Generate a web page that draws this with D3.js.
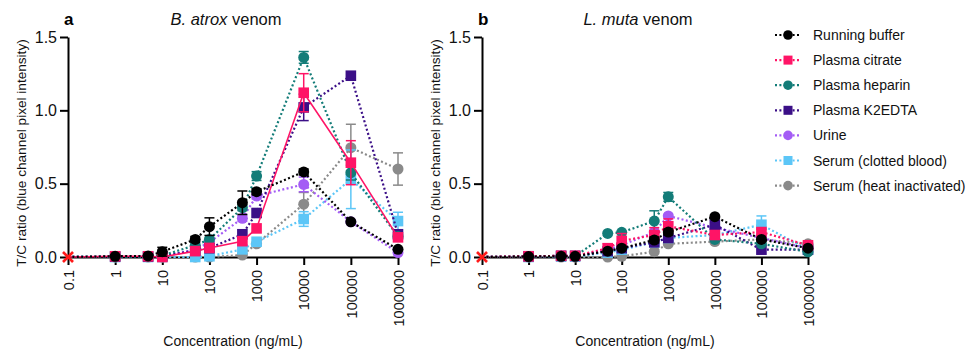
<!DOCTYPE html>
<html><head><meta charset="utf-8">
<script src="https://cdn.jsdelivr.net/npm/d3@7"></script>
<style>
body{margin:0;background:#fff;}
text{font-family:"Liberation Sans",Arial,sans-serif;}
</style></head>
<body><svg id="c" width="969" height="351"></svg>
<script>
const conc = [0.1, 1, 5, 10, 50, 100, 500, 1000, 10000, 100000, 1000000];
const xTicks = [0.1, 1, 10, 100, 1000, 10000, 100000, 1000000];
const xTickLabels = ["0.1","1","10","100","1000","10000","100000","1000000"];
const yTicks = [0, 0.5, 1.0, 1.5];
const seriesNames = ["Running buffer","Plasma citrate","Plasma heparin","Plasma K2EDTA","Urine","Serum (clotted blood)","Serum (heat inactivated)"];
const seriesColors = ["#000000","#ff1466","#137c78","#3b0f87","#a45cf5","#5cc6f7","#8a8a8a"];
const seriesShapes = ["circle","square","circle","square","circle","square","circle"];
const panelTitles = [["B. atrox"," venom"],["L. muta"," venom"]];
const panelLetters = ["a","b"];

// panel a values
const runningA = [0, 0.005, 0.007, 0.036, 0.12, 0.207, 0.37, 0.445, 0.58, 0.24, 0.052];
const citrateA = [0, 0.005, 0.005, 0.0, 0.04, 0.062, 0.108, 0.195, 1.12, 0.643, 0.134];
const heparinA = [0, 0.003, 0.003, 0.01, 0.08, 0.12, 0.336, 0.552, 1.361, 0.575, 0.14];
const k2edtaA  = [0, 0.003, 0.003, 0.005, 0.045, 0.06, 0.155, 0.30, 1.02, 1.236, 0.155];
const urineA   = [0, 0.003, 0.003, 0.005, 0.05, 0.10, 0.264, 0.416, 0.495, 0.24, 0.03];
const clottedA = [0, 0, 0, 0, 0.0, 0.005, 0.052, 0.104, 0.259, 0.53, 0.245];
const heatA    = [0, 0, 0, 0, 0, 0, 0.013, 0.09, 0.36, 0.745, 0.60];
// panel a error (SD)
const runningAErr = [0, 0, 0, 0.03, 0.02, 0.06, 0.08, 0.02, 0.02, 0.01, 0.01];
const citrateAErr = [0, 0, 0, 0, 0, 0.01, 0.01, 0.01, 0.13, 0.15, 0.02];
const heparinAErr = [0, 0, 0, 0, 0.01, 0.01, 0.02, 0.03, 0.04, 0.05, 0.02];
const k2edtaAErr  = [0, 0, 0, 0, 0, 0, 0.01, 0.01, 0.09, 0.01, 0.01];
const urineAErr   = [0, 0, 0, 0, 0, 0.01, 0.02, 0.02, 0.05, 0.01, 0.01];
const clottedAErr = [0, 0, 0, 0, 0, 0, 0.01, 0.01, 0.05, 0.2, 0.06];
const heatAErr    = [0, 0, 0, 0, 0, 0, 0.01, 0.01, 0.08, 0.16, 0.11];

// panel b values
const runningB = [0, 0.003, 0.005, 0.005, 0.04, 0.06, 0.116, 0.17, 0.275, 0.12, 0.06];
const citrateB = [0, 0.005, 0.008, 0.008, 0.06, 0.11, 0.15, 0.21, 0.15, 0.17, 0.08];
const heparinB = [0, 0.003, 0.005, 0.005, 0.161, 0.168, 0.245, 0.41, 0.12, 0.09, 0.035];
const k2edtaB  = [0, 0.005, 0.008, 0.008, 0.04, 0.06, 0.10, 0.13, 0.22, 0.05, 0.05];
const urineB   = [0, 0.003, 0.005, 0.005, 0.05, 0.08, 0.17, 0.28, 0.20, 0.13, 0.06];
const clottedB = [0, 0, 0.003, 0.003, 0.03, 0.05, 0.10, 0.13, 0.15, 0.22, 0.05];
const heatB    = [0, 0, 0, 0, 0.0, 0.005, 0.036, 0.09, 0.105, 0.12, 0.09];
const runningBErr = [0, 0, 0, 0, 0.01, 0.01, 0.02, 0.02, 0.01, 0.01, 0.01];
const citrateBErr = [0, 0, 0, 0, 0.03, 0.05, 0.05, 0.05, 0.02, 0.02, 0.01];
const heparinBErr = [0, 0, 0, 0, 0.01, 0.01, 0.07, 0.03, 0.01, 0.01, 0.01];
const k2edtaBErr  = [0, 0, 0, 0, 0, 0, 0.01, 0.02, 0.03, 0.01, 0.01];
const urineBErr   = [0, 0, 0, 0, 0, 0, 0.01, 0.01, 0.01, 0.01, 0.01];
const clottedBErr = [0, 0, 0, 0, 0, 0, 0.01, 0.01, 0.01, 0.06, 0.01];
const heatBErr    = [0, 0, 0, 0, 0, 0, 0.01, 0.01, 0.01, 0.01, 0.01];

const panelValues = [
  [runningA, citrateA, heparinA, k2edtaA, urineA, clottedA, heatA],
  [runningB, citrateB, heparinB, k2edtaB, urineB, clottedB, heatB]];
const panelErrors = [
  [runningAErr, citrateAErr, heparinAErr, k2edtaAErr, urineAErr, clottedAErr, heatAErr],
  [runningBErr, citrateBErr, heparinBErr, k2edtaBErr, urineBErr, clottedBErr, heatBErr]];

const svg = d3.select("#c");
const panels = [{x0:68, x1:398}, {x0:482, x1:808}];
const yTop = 37, yBot = 257;
const dash = "2,2.4";

panels.forEach((p, pi) => {
  const x = d3.scaleLog().domain([0.1, 1e6]).range([p.x0, p.x1]);
  const y = d3.scaleLinear().domain([0, 1.5]).range([yBot, yTop]);
  const g = svg.append("g");

  // axes
  const xa = g.append("g").attr("transform", `translate(0,${yBot})`)
    .call(d3.axisBottom(x).tickValues(xTicks).tickFormat((d,i)=>xTickLabels[i]).tickSize(8).tickSizeOuter(0));
  xa.selectAll("text").attr("transform","rotate(-90)").attr("text-anchor","end")
    .attr("x",-13).attr("y",0).attr("dy","0.36em").attr("font-size","14.5px").attr("fill","#111");
  const ya = g.append("g").attr("transform", `translate(${p.x0},0)`)
    .call(d3.axisLeft(y).tickValues(yTicks).tickFormat(d3.format(".1f")).tickSize(8).tickSizeOuter(0));
  ya.selectAll("text").attr("font-size","16px").attr("x",-11).attr("fill","#111");
  [xa, ya].forEach(a => {
    a.select(".domain").attr("stroke","#000").attr("stroke-width",2);
    a.selectAll(".tick line").attr("stroke","#000").attr("stroke-width",2);
    a.attr("font-family",null);
  });

  // axis titles
  g.append("text").attr("x",(p.x0+p.x1)/2).attr("y",346).attr("text-anchor","middle")
    .attr("font-size","14px").attr("fill","#111").text("Concentration (ng/mL)");
  g.append("text").attr("transform",`translate(${p.x0-42},${153}) rotate(-90)`).attr("text-anchor","middle")
    .attr("font-size","13.6px").attr("fill","#111").text("T/C ratio (blue channel pixel intensity)");

  // titles
  g.append("text").attr("x",p.x0-4).attr("y",25).attr("font-size","17px").attr("font-weight","bold").text(panelLetters[pi]);
  const t = g.append("text").attr("x",(p.x0+p.x1)/2-7).attr("y",25).attr("text-anchor","middle").attr("font-size","16.5px").attr("fill","#111");
  t.append("tspan").attr("font-style","italic").text(panelTitles[pi][0]);
  t.append("tspan").text(panelTitles[pi][1]);

  // series (reverse order so Running buffer on top)
  for (let si = seriesNames.length-1; si >= 0; si--) {
    const vals = panelValues[pi][si], errs = panelErrors[pi][si], col = seriesColors[si];
    const pts = conc.map((c,i)=>({c, v:vals[i], e:errs[i]}));
    const solid = (pi===0 && si===1);
    const sg = g.append("g");
    sg.append("path").datum(pts)
      .attr("d", d3.line().x(d=>x(d.c)).y(d=>y(d.v)))
      .attr("fill","none").attr("stroke",col)
      .attr("stroke-width", solid?1.6:2.2)
      .attr("stroke-dasharray", solid?null:dash);
    const eb = pts.filter(d=>d.e>0.015 && d.c>0.1);
    eb.forEach(d=>{
      const xx = x(d.c), ya1 = y(d.v+d.e), yb1 = y(Math.max(0,d.v-d.e));
      sg.append("line").attr("x1",xx).attr("x2",xx).attr("y1",ya1).attr("y2",yb1).attr("stroke",col).attr("stroke-width",1.5);
      sg.append("line").attr("x1",xx-5).attr("x2",xx+5).attr("y1",ya1).attr("y2",ya1).attr("stroke",col).attr("stroke-width",1.5);
      sg.append("line").attr("x1",xx-5).attr("x2",xx+5).attr("y1",yb1).attr("y2",yb1).attr("stroke",col).attr("stroke-width",1.5);
    });
    const mp = pts.filter(d=>d.c>0.1);
    if (seriesShapes[si]==="circle") {
      sg.selectAll("circle").data(mp).join("circle")
        .attr("cx",d=>x(d.c)).attr("cy",d=>y(d.v)).attr("r",5.5).attr("fill",col);
    } else {
      sg.selectAll("rect").data(mp).join("rect")
        .attr("x",d=>x(d.c)-5.3).attr("y",d=>y(d.v)-5.3).attr("width",10.6).attr("height",10.6).attr("fill",col);
    }
  }
  // red X at 0.1
  const cx = x(conc[0]), cy = y(0);
  const xg = g.append("g").attr("stroke","#ff1a1a").attr("stroke-width",2.6);
  xg.append("line").attr("x1",cx-5).attr("y1",cy-5).attr("x2",cx+5).attr("y2",cy+5);
  xg.append("line").attr("x1",cx-5).attr("y1",cy+5).attr("x2",cx+5).attr("y2",cy-5);
});

// legend
const lg = svg.append("g");
seriesNames.forEach((n,i)=>{
  const yy = 35 + i*25.1, col = seriesColors[i];
  lg.append("line").attr("x1",775).attr("x2",801).attr("y1",yy).attr("y2",yy)
    .attr("stroke",col).attr("stroke-width",2.2).attr("stroke-dasharray",dash);
  if (seriesShapes[i]==="circle") lg.append("circle").attr("cx",788).attr("cy",yy).attr("r",4.8).attr("fill",col);
  else lg.append("rect").attr("x",783.5).attr("y",yy-4.5).attr("width",9).attr("height",9).attr("fill",col);
  lg.append("text").attr("x",813).attr("y",yy).attr("dy","0.36em").attr("font-size","14px").attr("fill","#111").text(n);
});
</script></body></html>
